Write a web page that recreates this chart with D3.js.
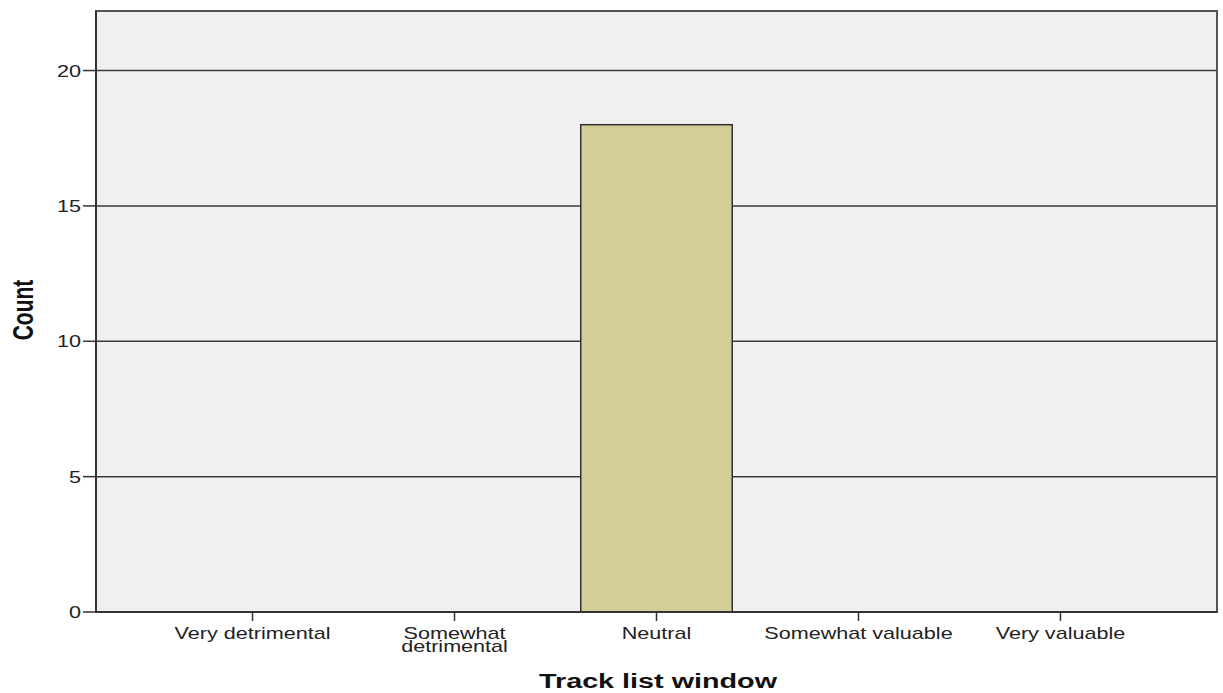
<!DOCTYPE html>
<html><head><meta charset="utf-8">
<script src="https://cdn.jsdelivr.net/npm/d3@7"></script>
<style>body{margin:0;background:#fff;} svg{display:block;}</style>
</head><body>
<svg id="chart" width="1223" height="693"></svg>
<script>
const categories = ["Very detrimental", "Somewhat detrimental", "Neutral", "Somewhat valuable", "Very valuable"];
const categoryLines = [["Very detrimental"], ["Somewhat", "detrimental"], ["Neutral"], ["Somewhat valuable"], ["Very valuable"]];
const counts = [0, 0, 18, 0, 0];
const yTicks = [0, 5, 10, 15, 20];
const xTitle = "Track list window";
const yTitle = "Count";

const svg = d3.select("#chart");
const L = 96, R = 1217, T = 11, B = 612;
const SX = 1.27;
const font = "'Liberation Sans', Arial, sans-serif";

const x = d3.scaleBand().domain(categories).range([L, R]).paddingInner(0.25).paddingOuter(0.4);
const y = d3.scaleLinear().domain([0, 22.2]).range([B, T]);

svg.append("rect").attr("x", L).attr("y", T).attr("width", R - L).attr("height", B - T).attr("fill", "#f0f0f0");

// gridlines
svg.append("g").selectAll("line").data(yTicks.filter(d => d > 0)).join("line")
  .attr("x1", L).attr("x2", R).attr("y1", d => y(d)).attr("y2", d => y(d))
  .attr("stroke", "#3a3a3a").attr("stroke-width", 1.5);

// bars
svg.append("g").selectAll("rect").data(counts).join("rect")
  .attr("x", (d, i) => x(categories[i]))
  .attr("width", x.bandwidth())
  .attr("y", d => y(d))
  .attr("height", d => y(0) - y(d))
  .attr("fill", "#d3ce97")
  .attr("stroke", d => d > 0 ? "#333" : "none")
  .attr("stroke-width", 1.5);

// frame
svg.append("rect").attr("x", L).attr("y", T).attr("width", R - L).attr("height", B - T)
  .attr("fill", "none").attr("stroke", "#555").attr("stroke-width", 2);

// y axis ticks and labels
const yg = svg.append("g");
yTicks.forEach(t => {
  yg.append("line").attr("x1", 83).attr("x2", L).attr("y1", y(t)).attr("y2", y(t))
    .attr("stroke", "#333").attr("stroke-width", 1.5);
  yg.append("text").attr("transform", `translate(81,${y(t) + 6}) scale(${SX},1)`)
    .attr("text-anchor", "end").attr("font-family", font).attr("font-size", 17)
    .attr("fill", "#222").text(t);
});
yg.append("line").attr("x1", L).attr("x2", L).attr("y1", T).attr("y2", B).attr("stroke", "#333").attr("stroke-width", 2);

// x axis ticks and labels
const xg = svg.append("g");
xg.append("line").attr("x1", L).attr("x2", R).attr("y1", B).attr("y2", B).attr("stroke", "#333").attr("stroke-width", 2);
categories.forEach((c, i) => {
  const cx = x(c) + x.bandwidth() / 2;
  xg.append("line").attr("x1", cx).attr("x2", cx).attr("y1", B).attr("y2", B + 9)
    .attr("stroke", "#333").attr("stroke-width", 1.5);
  const tx = xg.append("text").attr("transform", `translate(${cx},639) scale(${SX},1)`)
    .attr("text-anchor", "middle").attr("font-family", font).attr("font-size", 17)
    .attr("fill", "#222");
  categoryLines[i].forEach((ln, j) => {
    tx.append("tspan").attr("x", 0).attr("dy", j === 0 ? 0 : 13).text(ln);
  });
});

// axis titles
svg.append("text").attr("transform", `translate(658,688) scale(1.37,1)`)
  .attr("text-anchor", "middle").attr("font-family", font).attr("font-size", 21)
  .attr("font-weight", "bold").attr("fill", "#111").text(xTitle);
svg.append("text").attr("transform", `translate(32.5,310) scale(1.44,1) rotate(-90)`)
  .attr("text-anchor", "middle").attr("font-family", font).attr("font-size", 21)
  .attr("font-weight", "bold").attr("fill", "#111").text(yTitle);
</script>
</body></html>
